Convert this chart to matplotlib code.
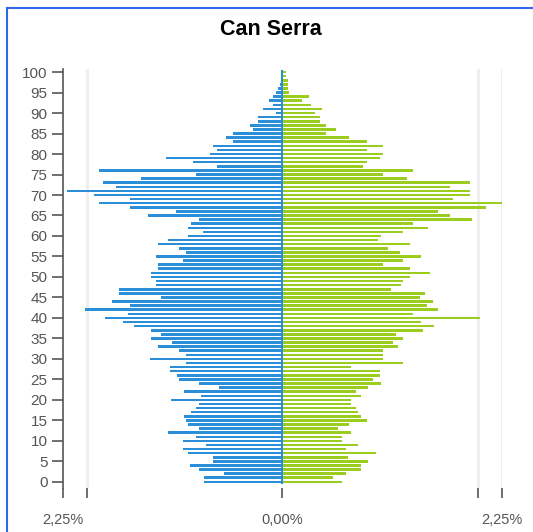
import numpy as np
import matplotlib.pyplot as plt
from matplotlib.lines import Line2D

plt.rcParams['font.family'] = ['Liberation Sans', 'DejaVu Sans']

# ages 0..100, share of population (%)
ages = np.arange(0, 101)
men = [0.90, 0.90, 0.67, 0.96, 1.07, 0.80, 0.80, 1.09, 1.15, 0.88,
       1.15, 1.00, 1.32, 0.96, 1.09, 1.11, 1.13, 1.05, 1.00, 0.96,
       1.28, 0.94, 1.13, 0.73, 0.96, 1.19, 1.21, 1.30, 1.30, 1.11,
       1.53, 1.11, 1.19, 1.44, 1.27, 1.51, 1.40, 1.51, 1.71, 1.84,
       2.05, 1.78, 2.28, 1.76, 1.96, 1.40, 1.88, 1.88, 1.46, 1.46,
       1.51, 1.51, 1.44, 1.44, 1.15, 1.46, 1.11, 1.19, 1.44, 1.32,
       1.09, 0.92, 1.09, 1.05, 0.96, 1.55, 1.23, 1.76, 2.11, 1.76,
       2.17, 2.48, 1.92, 2.07, 1.63, 1.00, 2.11, 0.75, 1.03, 1.34,
       0.84, 0.75, 0.80, 0.57, 0.65, 0.57, 0.34, 0.38, 0.28, 0.28,
       0.07, 0.23, 0.11, 0.15, 0.11, 0.07, 0.05, 0.03, 0.02, 0.02,
       0.015]
women = [0.68, 0.58, 0.73, 0.91, 0.91, 0.98, 0.75, 1.08, 0.73, 0.87,
         0.68, 0.68, 0.79, 0.64, 0.77, 0.97, 0.91, 0.87, 0.85, 0.79,
         0.79, 0.91, 0.85, 0.98, 1.14, 1.04, 1.12, 1.12, 0.79, 1.39,
         1.16, 1.16, 1.16, 1.33, 1.27, 1.39, 1.31, 1.62, 1.75, 1.60,
         2.27, 1.50, 1.79, 1.66, 1.73, 1.58, 1.64, 1.25, 1.37, 1.39,
         1.47, 1.70, 1.47, 1.16, 1.39, 1.60, 1.35, 1.22, 1.47, 1.10,
         1.14, 1.39, 1.68, 1.50, 2.18, 1.93, 1.79, 2.35, 2.68, 1.97,
         2.16, 2.16, 1.93, 2.16, 1.43, 1.16, 1.50, 0.93, 0.97, 1.12,
         1.16, 0.97, 1.16, 0.97, 0.77, 0.50, 0.62, 0.50, 0.43, 0.43,
         0.37, 0.45, 0.33, 0.23, 0.31, 0.08, 0.06, 0.06, 0.06, 0.04,
         0.04]
yticks = np.arange(0, 101, 5)
xticks = [-2.53, -2.25, 0, 2.25, 2.53]
xticklabels = ['2,25%', '', '0,00%', '', '2,25%']

blue = '#2a8fd8'
green = '#9acd1e'
grey = '#555555'

fig = plt.figure(figsize=(5.33, 5.32), dpi=100)
ax = fig.add_axes([0.118, 0.0827, 0.824, 0.788])

for g in [-2.25, 2.25, 2.53]:
    ax.axvline(g, color='#eeeeee', lw=2, zorder=0)

ax.barh(ages, -np.array(men), height=0.62, color=blue, zorder=2)
ax.barh(ages, women, height=0.62, color=green, zorder=2)
ax.plot([0, 0], [-0.3, 100.3], color=blue, lw=1.5, zorder=3)

ax.set_xlim(-2.53, 2.53)
ax.set_ylim(-1.5, 100.8)
ax.set_yticks(yticks)
ax.set_yticklabels([str(t) for t in yticks], color=grey, fontsize=11)
ax.set_xticks(xticks)
ax.set_xticklabels(xticklabels, color=grey, fontsize=10.5)
ax.tick_params(axis='y', length=8, width=1.2, color=grey, pad=3)
ax.tick_params(axis='x', length=7, width=1.2, color=grey, pad=11)
for s in ['top', 'right', 'bottom']:
    ax.spines[s].set_visible(False)
ax.spines['left'].set_color(grey)
ax.spines['left'].set_linewidth(1.2)

fig.text(0.508, 0.944, 'Can Serra', ha='center', va='center',
         fontsize=15.5, fontweight='bold')

# screenshot frame lines
fig.add_artist(Line2D([7 / 533, 1], [1 - 8 / 532, 1 - 8 / 532], color='#3366ee', lw=1.5))
fig.add_artist(Line2D([7 / 533, 7 / 533], [1 - 8 / 532, 0], color='#3366ee', lw=1.5))

fig.savefig('out.png', dpi=100)
